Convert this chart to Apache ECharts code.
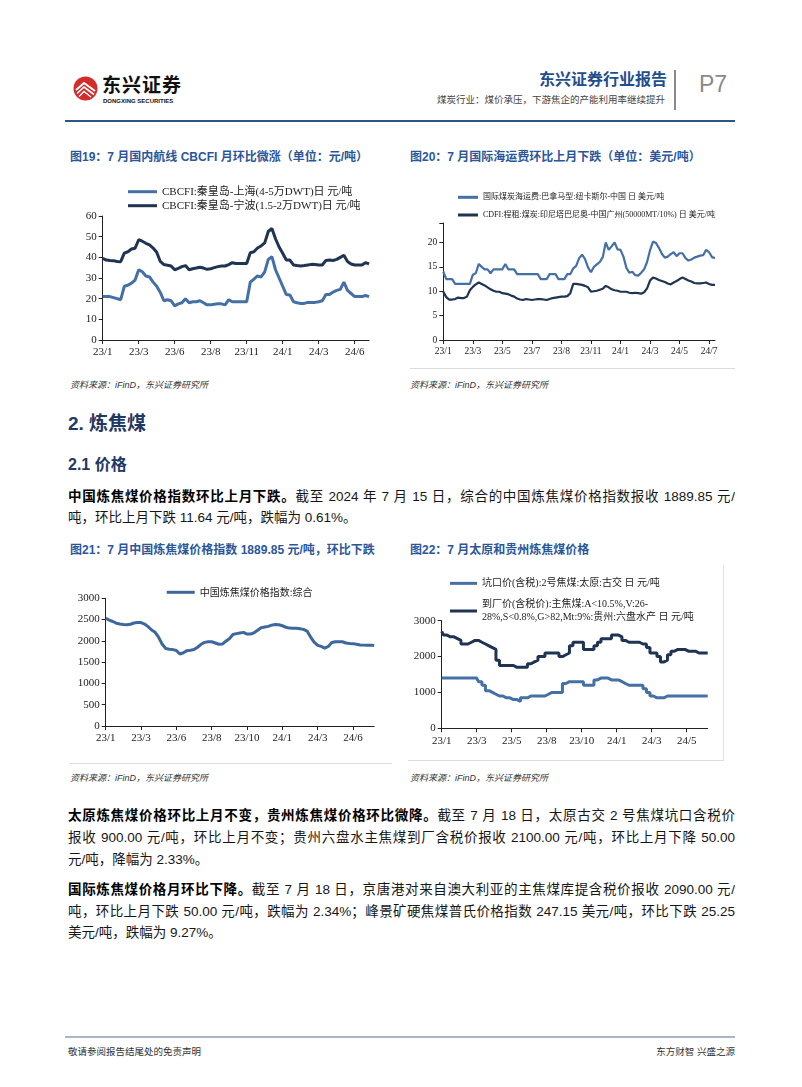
<!DOCTYPE html>
<html><head><meta charset="utf-8">
<script src="https://cdn.jsdelivr.net/npm/echarts@6/dist/echarts.min.js"></script>
<style>
html,body{margin:0;padding:0;background:#fff}
body{width:802px;height:1087px;position:relative;overflow:hidden;font-family:"Liberation Sans","Noto Sans CJK SC",sans-serif;color:#111}
.a{position:absolute;white-space:nowrap}
.ttl{font-size:12px;font-weight:bold;color:#2b579a;line-height:16px}
.src{font-size:9px;font-style:italic;color:#333;line-height:12px}
.ln{position:absolute;left:68px;width:667px;font-size:13.5px;line-height:20px;white-space:nowrap;color:#161616}
.j{text-align:justify;text-align-last:justify;white-space:normal;height:20px;overflow:hidden}
b{font-weight:bold;color:#000}
.chart{position:absolute}
</style></head>
<body>
<!-- header -->
<svg class="a" style="left:73px;top:76px" width="25" height="25" viewBox="0 0 25 25">
  <circle cx="12.5" cy="12.5" r="12" fill="#d42b2b"/>
  <path d="M3 14 L11 7 L22 15" stroke="#fff" stroke-width="2" fill="none"/>
  <path d="M4 17.5 L11 11 L21 18.5" stroke="#fff" stroke-width="1.6" fill="none"/>
  <path d="M6 20.5 L11 15.5 L18 21" stroke="#fff" stroke-width="1.4" fill="none"/>
</svg>
<div class="a" style="left:102px;top:75px;font-size:19px;font-weight:bold;letter-spacing:1px;line-height:22px;color:#111">东兴证券</div>
<div class="a" style="left:103px;top:97px;font-size:6px;font-weight:bold;line-height:8px;color:#111">DONGXING SECURITIES</div>
<div class="a" style="right:135px;top:70px;font-size:16px;font-weight:bold;line-height:20px;color:#1f4e8c">东兴证券行业报告</div>
<div class="a" style="right:137px;top:94px;font-size:9.5px;line-height:12px;color:#444">煤炭行业：煤价承压，下游焦企的产能利用率继续提升</div>
<div class="a" style="left:674px;top:70px;width:1.5px;height:40px;background:#8a8a8a"></div>
<div class="a" style="left:699px;top:70px;font-size:23px;line-height:28px;color:#8a8a8a">P7</div>
<div class="a" style="left:65px;top:120px;width:670px;height:2px;background:#2f5584"></div>

<!-- chart titles -->
<div class="a ttl" style="left:70px;top:149px">图19：7 月国内航线 CBCFI 月环比微涨（单位：元/吨）</div>
<div class="a ttl" style="left:410px;top:149px">图20：7 月国际海运费环比上月下跌（单位：美元/吨）</div>
<div id="c19" class="chart" style="left:60px;top:170px;width:340px;height:195px"></div>
<div id="c20" class="chart" style="left:400px;top:170px;width:340px;height:195px"></div>
<div class="a" style="left:410px;top:368px;width:325px;height:1px;background:#dcdcdc"></div>
<div class="a src" style="left:70px;top:379px">资料来源：iFinD，东兴证券研究所</div>
<div class="a src" style="left:410px;top:379px">资料来源：iFinD，东兴证券研究所</div>

<!-- section heading -->
<div class="a" style="left:68px;top:412px;font-size:19px;font-weight:bold;line-height:24px;color:#1f3864">2. 炼焦煤</div>
<div class="a" style="left:68px;top:455px;font-size:16px;font-weight:bold;line-height:20px;color:#1f3864">2.1 价格</div>
<div class="ln j" style="top:487px"><b>中国炼焦煤价格指数环比上月下跌。</b>截至 2024 年 7 月 15 日，综合的中国炼焦煤价格指数报收 1889.85 元/</div>
<div class="ln" style="top:508px">吨，环比上月下跌 11.64 元/吨，跌幅为 0.61%。</div>

<div class="a ttl" style="left:70px;top:542px">图21：7 月中国炼焦煤价格指数 1889.85 元/吨，环比下跌</div>
<div class="a ttl" style="left:410px;top:542px">图22：7 月太原和贵州炼焦煤价格</div>
<div id="c21" class="chart" style="left:60px;top:570px;width:340px;height:185px"></div>
<div id="c22" class="chart" style="left:400px;top:565px;width:322px;height:190px"></div>
<div class="a" style="left:70px;top:763px;width:322px;height:1px;background:#dcdcdc"></div>
<div class="a" style="left:408px;top:760px;width:316px;height:1px;background:#dcdcdc"></div>
<div class="a" style="left:723px;top:565px;width:1px;height:195px;background:#e2e2e2"></div>
<div class="a src" style="left:70px;top:772px">资料来源：iFinD，东兴证券研究所</div>
<div class="a src" style="left:410px;top:772px">资料来源：iFinD，东兴证券研究所</div>

<div class="ln j" style="top:806px"><b>太原炼焦煤价格环比上月不变，贵州炼焦煤价格环比微降。</b>截至 7 月 18 日，太原古交 2 号焦煤坑口含税价</div>
<div class="ln j" style="top:828px">报收 900.00 元/吨，环比上月不变；贵州六盘水主焦煤到厂含税价报收 2100.00 元/吨，环比上月下降 50.00</div>
<div class="ln" style="top:850px">元/吨，降幅为 2.33%。</div>
<div class="ln j" style="top:880px"><b>国际炼焦煤价格月环比下降。</b>截至 7 月 18 日，京唐港对来自澳大利亚的主焦煤库提含税价报收 2090.00 元/</div>
<div class="ln j" style="top:902px">吨，环比上月下跌 50.00 元/吨，跌幅为 2.34%；峰景矿硬焦煤普氏价格指数 247.15 美元/吨，环比下跌 25.25</div>
<div class="ln" style="top:923px">美元/吨，跌幅为 9.27%。</div>

<!-- footer -->
<div class="a" style="left:65px;top:1036px;width:670px;height:2px;background:#a7b8c8"></div>
<div class="a" style="left:68px;top:1045px;font-size:9.5px;line-height:13px;color:#333">敬请参阅报告结尾处的免责声明</div>
<div class="a" style="right:67px;top:1045px;font-size:9.5px;line-height:13px;color:#333">东方财智 兴盛之源</div>

<script>
// ---------- data ----------
const ticks19 = ['23/1','23/3','23/6','23/8','23/11','24/1','24/3','24/6'];
const name19a = 'CBCFI:秦皇岛-上海(4-5万DWT)日 元/吨';
const name19b = 'CBCFI:秦皇岛-宁波(1.5-2万DWT)日 元/吨';
const shanghai19 = [21,21,21,20.5,20,19.5,26,26.5,27.5,29,
  34,33,31,30.5,28,26,23,19,19.5,19,
  16.5,17.5,18,20,18,18.5,18.5,19,18,17,
  17,17.3,17.5,17.5,17,19.5,18.5,18.5,18.5,18.5,
  18.5,28,29.5,31,30.5,33,39,40.3,34,30,
  26,22,21.8,18.5,18,17.7,17.7,18.2,18.2,18.2,
  18.5,19,22,22,23.2,24,24.5,28,24,22.5,
  21,21,21,21.5,21];
const ningbo19 = [39.5,38.7,38.5,38.4,38,37.9,42,42.7,44,44.4,
  48.5,47.8,46.8,46,44.5,42.5,38,36.5,36.2,35.8,
  34,34.7,35.5,36,34,34.5,34.8,35.2,34.8,34.2,
  34.5,35,35.5,35.8,35.8,36.5,37.4,37,37,37,
  37,42.2,42.7,44.5,45.5,47,52.5,54,49,45,
  42,38.7,38.7,36.3,36,35.8,36,36.3,36.6,36.5,
  36.3,36.3,38.5,38.7,38.5,39,40,41,38,36.8,
  36.3,36.3,36.3,37.4,36.8];

const ticks20 = ['23/1','23/3','23/5','23/7','23/8','23/11','24/1','24/3','24/5','24/7'];
const name20a = '国际煤炭海运费:巴拿马型:纽卡斯尔-中国 日 美元/吨';
const name20b = 'CDFI:程租:煤炭:印尼塔巴尼奥-中国广州(50000MT/10%) 日 美元/吨';
const panamax20 = [14,12.5,12.5,12.5,11.5,11.5,11.5,11.5,11.5,11.5,
  13.4,13.7,15.6,15,14.5,14.5,13.7,14.5,14.5,14.5,
  14.5,15.6,14.5,14.5,14.5,13.5,13.5,13.5,13.5,13.5,
  13.5,13.5,13.5,12.5,12.5,12.5,13.5,13.5,13.5,12.5,
  12.5,12.5,13.5,13.5,14.7,15.2,16.8,17.5,16.6,14.9,
  13.9,15,15.5,16,17,20,18.5,19.2,20,18.6,
  18.5,17.1,14.8,13.8,14,13.3,13.2,13.8,14.5,16,
  18.4,20.2,19.9,18.9,17.7,16.9,17.1,17.6,18,17.2,
  17.8,17.8,16.8,16.3,16.5,16.9,17.1,17.3,17.4,18.5,
  18,17,16.8];
const cdfi20 = [9.9,8.8,8.3,8.3,8.4,8.7,8.6,8.6,8.9,10.2,
  10.9,11.4,11.8,11.5,11.2,10.8,10.4,10.1,9.9,9.9,
  9.6,9.5,9.4,9.1,8.9,8.5,8.3,8.2,8.4,8.3,
  8.2,8.3,8.4,8.4,8.3,8.2,8.4,8.6,8.7,8.8,
  8.9,8.9,9,9.6,11.5,11.5,11.4,11.3,11.1,10.8,
  9.9,10,10.1,10.3,10.5,11.1,10.8,10.4,10.2,10.1,
  9.9,9.9,9.9,9.7,9.6,9.7,9.6,9.5,9.8,10.6,
  12.2,12.8,12.6,12.3,12.1,11.9,11.6,11.4,11.8,12.1,
  12.5,12.8,12.5,12.2,12,11.7,11.6,11.6,11.7,11.8,
  11.5,11.3,11.3];

const ticks21 = ['23/1','23/3','23/6','23/8','23/10','24/1','24/3','24/6'];
const name21 = '中国炼焦煤价格指数:综合';
const index21 = [2530,2490,2455,2415,2395,2385,2380,2390,2420,2430,
  2430,2395,2335,2255,2200,2080,1920,1820,1805,1795,
  1775,1690,1720,1770,1780,1795,1850,1920,1965,1980,
  1980,1950,1920,1925,1990,2050,2150,2170,2185,2200,
  2160,2160,2190,2250,2310,2325,2340,2370,2385,2380,
  2355,2320,2300,2295,2295,2285,2270,2230,2090,1970,
  1895,1870,1830,1870,1960,1980,1980,1980,1950,1940,
  1935,1920,1905,1900,1895,1900,1890];

const ticks22 = ['23/1','23/3','23/5','23/8','23/10','24/1','24/3','24/5'];
const name22a = '坑口价(含税):2号焦煤:太原:古交 日 元/吨';
const name22b = '到厂价(含税价):主焦煤:A<10.5%,V:26-28%,S<0.8%,G>82,Mt:9%:贵州:六盘水产 日 元/吨';
const taiyuan22 = [1400,1400,1400,1400,1400,1400,1400,1400,1400,1400,
  1400,1300,1200,1050,1000,950,900,900,850,850,
  800,800,750,850,850,900,900,900,900,900,
  950,1000,1000,1000,1000,1250,1300,1300,1300,1300,
  1300,1200,1200,1200,1350,1400,1400,1400,1350,1350,
  1350,1300,1250,1200,1200,1200,1200,1200,1100,1000,
  900,850,850,850,900,900,900,900,900,900,
  900,900,900,900,900,900,900];
const guizhou22 = [2700,2600,2550,2550,2500,2450,2350,2350,2400,2450,
  2450,2400,2350,2300,2250,2200,1900,1750,1750,1750,
  1750,1700,1700,1700,1700,1800,1850,1900,2000,2000,
  2100,2100,2100,2100,2000,2050,2100,2300,2400,2400,
  2400,2200,2200,2200,2300,2400,2500,2500,2500,2600,
  2600,2550,2450,2400,2400,2400,2400,2350,2350,2250,
  2100,2100,2000,1850,1900,2050,2150,2200,2200,2200,
  2150,2150,2150,2100,2100,2100,2100];

// ---------- styles ----------
const LIGHT = '#4470a6';
const DARK = '#1f3353';
const SERIF = '"Liberation Serif","Times New Roman","Noto Sans CJK SC",serif';

function every10(i){ return i % 10 === 0; }

function xAxisFor(n, ticks, fs){
  return {
    type:'category', boundaryGap:false,
    data: Array.from({length:n}, (_, i) => String(i)),
    axisLine:{show:true, lineStyle:{color:'#222', width:1}},
    axisTick:{show:true, interval:every10, length:4, lineStyle:{color:'#222'}},
    axisLabel:{interval:every10, margin:7, fontFamily:SERIF, fontSize:fs, color:'#222',
      formatter:(v, i) => (i % 10 === 0 && ticks[i/10] !== undefined) ? ticks[i/10] : ''},
    splitLine:{show:false}
  };
}
function yAxisFor(min, max, interval, fs, fmt){
  return {
    type:'value', min:min, max:max, interval:interval,
    axisLine:{show:true, lineStyle:{color:'#222', width:1}},
    axisTick:{show:true, length:4, lineStyle:{color:'#222'}},
    axisLabel:{margin:6, fontFamily:SERIF, fontSize:fs, color:'#222', formatter: fmt || (v => String(v))},
    splitLine:{show:false}
  };
}
function lineSeries(name, data, color, width, step){
  const s = {type:'line', name:name, data:data, showSymbol:false, symbol:'none', smooth:false,
    lineStyle:{color:color, width:width}, itemStyle:{color:color}, emphasis:{disabled:true}, animation:false};
  if (step) s.step = step;
  return s;
}

// chart 19
echarts.init(document.getElementById('c19'), null, {renderer:'canvas'}).setOption({
  animation:false,
  legend:{orient:'vertical', left:63, top:9.7, icon:'rect', itemWidth:29, itemHeight:3, itemGap:0,
    textStyle:{fontFamily:SERIF, fontSize:11, lineHeight:14, color:'#222'}, data:[name19a, name19b]},
  grid:{left:42.7, top:46, width:266.4, height:124},
  xAxis:xAxisFor(shanghai19.length, ticks19, 11),
  yAxis:yAxisFor(0, 60, 10, 11),
  series:[lineSeries(name19a, shanghai19, LIGHT, 3), lineSeries(name19b, ningbo19, DARK, 3)]
});

// chart 20
echarts.init(document.getElementById('c20')).setOption({
  animation:false,
  legend:{orient:'vertical', left:53, top:17.3, icon:'rect', itemWidth:20, itemHeight:3, itemGap:7.7,
    textStyle:{fontFamily:SERIF, fontSize:8, lineHeight:10, color:'#222'}, data:[name20a, name20b]},
  grid:{left:43.3, top:53, width:271.7, height:117},
  xAxis:xAxisFor(panamax20.length, ticks20, 9.5),
  yAxis:yAxisFor(0, 24, 5, 9.5, v => (v % 5 === 0 ? String(v) : '')),
  series:[lineSeries(name20a, panamax20, LIGHT, 2.2), lineSeries(name20b, cdfi20, DARK, 2.2)]
});

// chart 21
echarts.init(document.getElementById('c21')).setOption({
  animation:false,
  legend:{orient:'horizontal', left:101.7, top:10.3, icon:'rect', itemWidth:28, itemHeight:3,
    textStyle:{fontFamily:'"Noto Sans CJK SC",sans-serif', fontSize:10, lineHeight:14, color:'#222'}, data:[name21]},
  grid:{left:45.7, top:28.3, width:268.5, height:127.7},
  xAxis:xAxisFor(index21.length, ticks21, 11),
  yAxis:yAxisFor(0, 3000, 500, 11),
  series:[lineSeries(name21, index21, '#3d679d', 3)]
});

// chart 22
echarts.init(document.getElementById('c22')).setOption({
  animation:false,
  legend:{orient:'vertical', left:45, top:7.2, icon:'rect', itemWidth:27, itemHeight:3, itemGap:9.2,
    textStyle:{fontFamily:SERIF, fontSize:10, lineHeight:12.3, color:'#222'},
    formatter: n => n === name22b ? n.replace('26-', '26-\n') : n,
    data:[name22a, name22b]},
  grid:{left:41.7, top:55.7, width:266, height:107.6},
  xAxis:xAxisFor(taiyuan22.length, ticks22, 11),
  yAxis:yAxisFor(0, 3000, 1000, 11),
  series:[lineSeries(name22a, taiyuan22, LIGHT, 3, 'middle'), lineSeries(name22b, guizhou22, DARK, 3, 'middle')]
});
</script>
</body></html>
